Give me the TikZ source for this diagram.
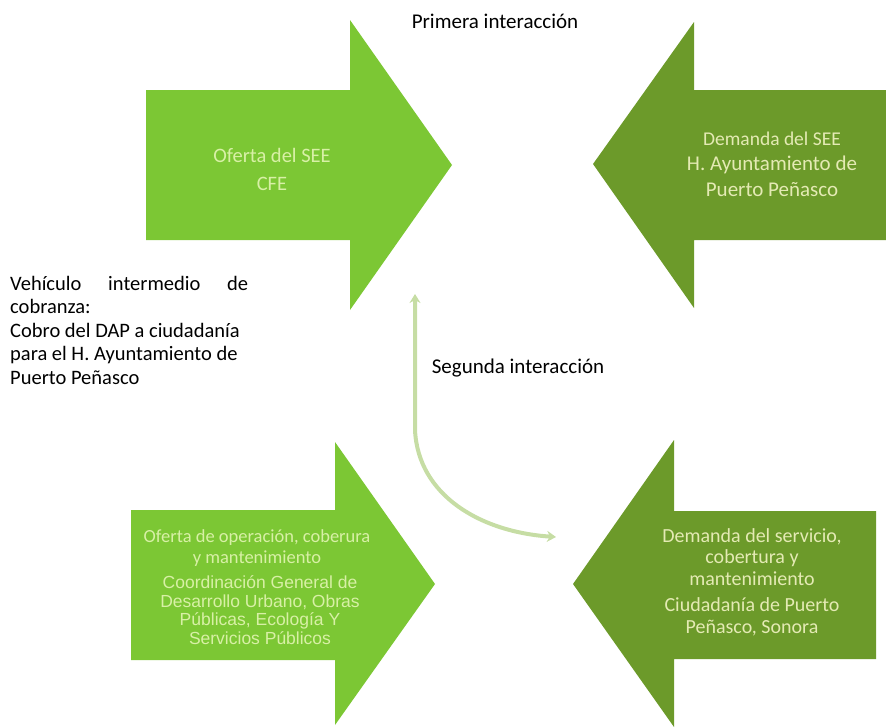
\documentclass[tikz,border=0pt]{standalone}
\usepackage{fontspec}
\setmainfont{Carlito}
\newfontfamily\arialf{Liberation Sans}
\usetikzlibrary{arrows.meta}
\definecolor{brightgreen}{HTML}{7CC734}
\definecolor{olivegreen}{HTML}{6C9A2A}
\definecolor{paletextL}{HTML}{D8F0A6}
\definecolor{paletextR}{HTML}{E4EAB4}
\definecolor{curvecol}{HTML}{C6DDA4}
\tikzset{
  bigarrowL/.style={fill=brightgreen, draw=none},
  bigarrowR/.style={fill=olivegreen, draw=none},
  intxt/.style={align=center, inner sep=0pt, text=paletextL},
  intxtR/.style={align=center, inner sep=0pt, text=paletextR},
  plain/.style={inner sep=0pt, text=black},
}
\begin{document}
\begin{tikzpicture}[x=1pt,y=-1pt]
\useasboundingbox (0,0) rectangle (886,728);
% big arrows
\path[bigarrowL] (146,90) -- (350,90) -- (350,20) -- (452,165) -- (350,310) -- (350,240) -- (146,240) -- cycle;
\path[bigarrowR] (886,90) -- (694,90) -- (694,22) -- (593,164) -- (694,308) -- (694,240) -- (886,240) -- cycle;
\path[bigarrowL] (131,510) -- (335,510) -- (335,442) -- (435,584) -- (335,725) -- (335,660) -- (131,660) -- cycle;
\path[bigarrowR] (876,511) -- (674,511) -- (674,440) -- (573,584) -- (674,727) -- (674,659) -- (876,659) -- cycle;
% texts in arrows
\node[intxt, font=\fontsize{20.5}{28}\selectfont] (tl) at (272,169) {Oferta del SEE\\CFE};
\node[intxtR, font=\fontsize{21}{25.5}\selectfont] (tr) at (772,164) {{\fontsize{19.5}{25.5}\selectfont Demanda del SEE}\\H. Ayuntamiento de\\Puerto Peñasco};
\node[intxt, font=\fontsize{18.5}{21}\selectfont] (bla) at (257,548) {Oferta de operación, coberura\\y mantenimiento};
\node[intxt, font=\arialf\fontsize{17.5}{18.5}\selectfont] (blb) at (260,610) {Coordinación General de\\Desarrollo Urbano, Obras\\Públicas, Ecología Y\\Servicios Públicos};
\node[intxtR, font=\fontsize{20}{21.5}\selectfont] (br) at (752,582) {Demanda del servicio,\\cobertura y\\mantenimiento\\[5pt]Ciudadanía de Puerto\\Peñasco, Sonora};
% free labels
\node[plain, font=\fontsize{21}{24}\selectfont] (prim) at (495,21) {Primera interacción};
\node[plain, font=\fontsize{21}{24}\selectfont] (seg) at (518,368) {Segunda interacción};
\node[plain, anchor=north west, align=left, font=\fontsize{20.5}{23.5}\selectfont] (veh) at (10,276)
  {\hbox to 238pt{Vehículo\hfill intermedio\hfill de}\\cobranza:\\Cobro del DAP a ciudadanía\\para el H. Ayuntamiento de\\Puerto Peñasco};
% curved double arrow
\coordinate (ctop) at (415,294);
\coordinate (cbot) at (556,537);
\draw[curvecol, line width=4pt, {Stealth[length=9pt,width=11pt]}-{Stealth[length=9pt,width=11pt]}]
  (ctop) -- (415,430) .. controls (418,495) and (480,532) .. (cbot);
\end{tikzpicture}
\end{document}
